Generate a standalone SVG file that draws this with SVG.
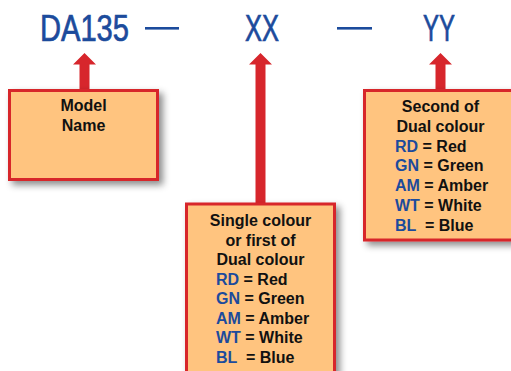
<svg xmlns="http://www.w3.org/2000/svg" width="511" height="371" viewBox="0 0 511 371">
  <defs>
    <filter id="sh" x="-20%" y="-20%" width="140%" height="140%">
      <feDropShadow dx="4" dy="4" stdDeviation="3.5" flood-color="#000" flood-opacity="0.45"/>
    </filter>
  </defs>
  <style>
    .title { font-family: "Liberation Sans", Arial, sans-serif; font-size: 36px; fill: #1c4b9c; stroke: #1c4b9c; stroke-width: 0.7; }
    .box { fill: #ffc47f; stroke: #d7262c; stroke-width: 3; filter: url(#sh); }
    .arrow { fill: #d7262c; }
    .t { font-family: "Liberation Sans", Arial, sans-serif; font-size: 16px; font-weight: bold; fill: #111; }
    .c { text-anchor: middle; }
    .code { fill: #1c4b9c; }
  </style>
  <rect width="511" height="371" fill="#ffffff"/>

  <g id="header">
    <text class="title" x="40" y="41" textLength="89" lengthAdjust="spacingAndGlyphs">DA135</text>
    <rect x="145" y="27" width="34" height="2.6" fill="#1c4b9c"/>
    <text class="title" x="245" y="41" textLength="34" lengthAdjust="spacingAndGlyphs">XX</text>
    <rect x="337" y="27" width="35" height="2.6" fill="#1c4b9c"/>
    <text class="title" x="423" y="41" textLength="32" lengthAdjust="spacingAndGlyphs">YY</text>
  </g>

  <g id="connectors">
    <path class="arrow" d="M84.5 53 L96 64.5 L89.5 64.5 L89.5 91 L79.5 91 L79.5 64.5 L73 64.5 Z"/>
    <path class="arrow" d="M260.5 53 L272 64.5 L265.5 64.5 L265.5 205 L255.5 205 L255.5 64.5 L249 64.5 Z"/>
    <path class="arrow" d="M440.5 53 L452 64.5 L445.5 64.5 L445.5 91 L435.5 91 L435.5 64.5 L429 64.5 Z"/>
  </g>

  <g id="model-name">
    <rect class="box" x="9.5" y="90.5" width="148" height="89"/>
    <text class="t c" x="83.5" y="111">Model</text>
    <text class="t c" x="83.5" y="130.5">Name</text>
  </g>

  <g id="first-colour">
    <rect class="box" x="186.5" y="204" width="148" height="200"/>
    <text class="t c" x="260.5" y="226">Single colour</text>
    <text class="t c" x="260.5" y="245.5">or first of</text>
    <text class="t c" x="260.5" y="265">Dual colour</text>
    <text class="t" x="216" y="284.5"><tspan class="code">RD</tspan> = Red</text>
    <text class="t" x="216" y="304"><tspan class="code">GN</tspan> = Green</text>
    <text class="t" x="216" y="323.5"><tspan class="code">AM</tspan> = Amber</text>
    <text class="t" x="216" y="343"><tspan class="code">WT</tspan> = White</text>
    <text class="t" x="216" y="362.5"><tspan class="code">BL</tspan><tspan x="246">= Blue</tspan></text>
  </g>

  <g id="second-colour">
    <rect class="box" x="364.5" y="90.5" width="152" height="149.5"/>
    <text class="t c" x="440.5" y="111.5">Second of</text>
    <text class="t c" x="440.5" y="131.5">Dual colour</text>
    <text class="t" x="395" y="151.5"><tspan class="code">RD</tspan> = Red</text>
    <text class="t" x="395" y="171"><tspan class="code">GN</tspan> = Green</text>
    <text class="t" x="395" y="190.7"><tspan class="code">AM</tspan> = Amber</text>
    <text class="t" x="395" y="210.5"><tspan class="code">WT</tspan> = White</text>
    <text class="t" x="395" y="230.5"><tspan class="code">BL</tspan><tspan x="425">= Blue</tspan></text>
  </g>
</svg>
